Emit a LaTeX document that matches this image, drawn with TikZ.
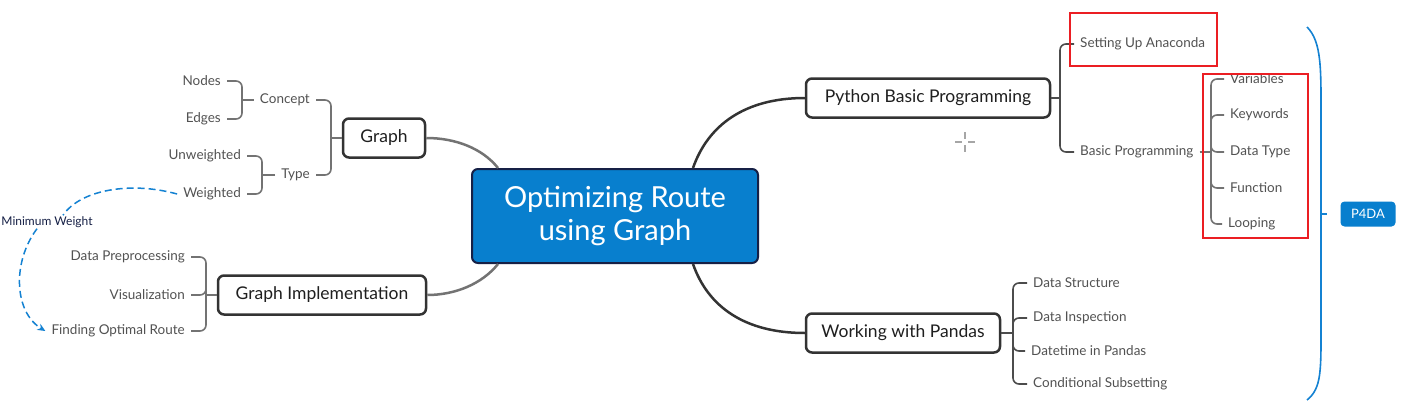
\documentclass[tikz,border=0pt]{standalone}
\usepackage{fontspec}
\setmainfont{Lato}
\usetikzlibrary{arrows.meta}
\definecolor{cblue}{RGB}{8,127,206}
\definecolor{navy}{RGB}{22,32,70}
\definecolor{lineblue}{RGB}{20,130,210}
\definecolor{rbox}{RGB}{235,30,35}
\tikzset{
  central/.style={draw=navy, line width=2pt, rounded corners=6pt, fill=cblue, text=white,
    font=\fontsize{29}{33}\selectfont, align=center, minimum width=286pt, minimum height=94pt},
  mainbox/.style={draw=black!80, line width=2.5pt, rounded corners=6pt, fill=white,
    font=\fontsize{17.5}{20}\selectfont, text=black!88, minimum height=39pt},
  leaf/.style={font=\fontsize{13.5}{16}\selectfont, text=black!68, inner xsep=6pt, inner ysep=2pt},
  trunkR/.style={draw=black!80, line width=2.5pt},
  trunkL/.style={draw=black!55, line width=2.5pt},
  brR/.style={draw=black!70, line width=1.6pt, rounded corners=6pt},
  brL/.style={draw=black!55, line width=1.6pt, rounded corners=6pt},
  redbox/.style={draw=rbox, line width=2pt},
  mwline/.style={draw=lineblue, line width=1.5pt, dash pattern=on 7pt off 4pt},
}
\begin{document}
\begin{tikzpicture}[x=1pt,y=-1pt]
\useasboundingbox[fill=white] (0,0) rectangle (1407,412);

% cursor artifact
\draw[black!35, line width=1.3pt] (955,142) -- (962,142) (968,142) -- (975,142) (965,132) -- (965,139) (965,145) -- (965,152);

% central and main nodes
\node[central] (c) at (615,216) {Optimizing Route\\using Graph};
\node[mainbox, minimum width=244pt] (py) at (928,98) {Python Basic Programming};
\node[mainbox, minimum width=194pt] (pd) at (903,333) {Working with Pandas};
\node[mainbox, minimum width=82pt] (gr) at (384,138) {Graph};
\node[mainbox, minimum width=208pt] (gi) at (322,295) {Graph Implementation};

% trunk connectors
\draw[trunkR] ([xshift=78pt]c.north) .. controls (708,125) and (745,98) .. (py.west);
\draw[trunkR] ([xshift=78pt]c.south) .. controls (708,307) and (745,333) .. (pd.west);
\draw[trunkL] ([xshift=-117pt]c.north) .. controls (482,148) and (455,138) .. (gr.east);
\draw[trunkL] ([xshift=-117pt]c.south) .. controls (482,284) and (455,295) .. (gi.east);

% right leaves
\node[leaf, anchor=west] (sua) at (1074,44) {Setting Up Anaconda};
\node[leaf, anchor=west] (bp) at (1074,152) {Basic Programming};
\node[leaf, anchor=west] (var) at (1224,79) {Variables};
\node[leaf, anchor=west] (kw) at (1224,115) {Keywords};
\node[leaf, anchor=west] (dt) at (1224,152) {Data Type};
\node[leaf, anchor=west] (fn) at (1224,188) {Function};
\node[leaf, anchor=west] (lp) at (1222,224) {Looping};
\node[leaf, anchor=west] (ds) at (1027,283) {Data Structure};
\node[leaf, anchor=west] (di) at (1027,318) {Data Inspection};
\node[leaf, anchor=west] (dtp) at (1025,351) {Datetime in Pandas};
\node[leaf, anchor=west] (cs) at (1027,384) {Conditional Subsetting};

% left leaves
\node[leaf, anchor=east] (concept) at (316,100) {Concept};
\node[leaf, anchor=east] (type) at (316,175) {Type};
\node[leaf, anchor=east] (nodes) at (227,81) {Nodes};
\node[leaf, anchor=east] (edges) at (227,119) {Edges};
\node[leaf, anchor=east] (unw) at (247,156) {Unweighted};
\node[leaf, anchor=east] (wt) at (247,194) {Weighted};
\node[leaf, anchor=east] (dp) at (191,257) {Data Preprocessing};
\node[leaf, anchor=east] (vis) at (191,295) {Visualization};
\node[leaf, anchor=east] (fop) at (191,331) {Finding Optimal Route};

% junctions
\coordinate (jpy) at (1060,98);
\coordinate (jbp) at (1211,152);
\coordinate (jpd) at (1013,333);
\coordinate (jgr) at (331,138);
\coordinate (jco) at (242,100);
\coordinate (jty) at (262,175);
\coordinate (jgi) at (206,295);

% right brackets
\draw[brR] (py.east) -- (jpy);
\draw[brR] (jpy) |- (sua.west);
\draw[brR] (jpy) |- (bp.west);
\draw[brL] (bp.east) -- (jbp);
\foreach \n in {var,kw,dt,fn,lp} \draw[brL] (jbp) |- (\n.west);
\draw[brR] (pd.east) -- (jpd);
\foreach \n in {ds,di,dtp,cs} \draw[brR] (jpd) |- (\n.west);

% left brackets
\draw[brL] (gr.west) -- (jgr);
\draw[brL] (jgr) |- (concept.east);
\draw[brL] (jgr) |- (type.east);
\draw[brL] (concept.west) -- (jco);
\draw[brL] (jco) |- (nodes.east);
\draw[brL] (jco) |- (edges.east);
\draw[brL] (type.west) -- (jty);
\draw[brL] (jty) |- (unw.east);
\draw[brL] (jty) |- (wt.east);
\draw[brL] (gi.west) -- (jgi);
\foreach \n in {dp,vis,fop} \draw[brL] (jgi) |- (\n.east);

% red highlight boxes
\draw[redbox] (1070,13) rectangle (1217,66);
\draw[redbox] (1203,74) rectangle (1308,238);

% minimum weight relation
\node[font=\fontsize{12}{14}\selectfont, text=navy, inner sep=1pt] (mw) at (47,222) {Minimum Weight};
\draw[mwline] (wt.west) .. controls (130,181) and (80,190) .. ([xshift=16pt]mw.north);
\draw[mwline, -{Stealth[length=8pt,width=7pt]}] ([xshift=-10pt]mw.south) .. controls (12,262) and (14,312) .. (fop.west);

% P4DA summary
\node[fill=cblue, rounded corners=4pt, text=white, font=\fontsize{13}{15}\selectfont,
  minimum width=55pt, minimum height=25pt, inner sep=2pt] (p4) at (1368,214) {P4DA};
\coordinate (bt) at (1321,214);
\draw[draw=lineblue, line width=1.6pt] (1307,27) .. controls (1322,42) and (1321,70) .. (1321,120)
  -- (1321,320) .. controls (1321,370) and (1322,388) .. (1307,400);
\draw[draw=lineblue, line width=1.6pt] (bt) -- ([xshift=-13pt]p4.west);
\end{tikzpicture}
\end{document}
